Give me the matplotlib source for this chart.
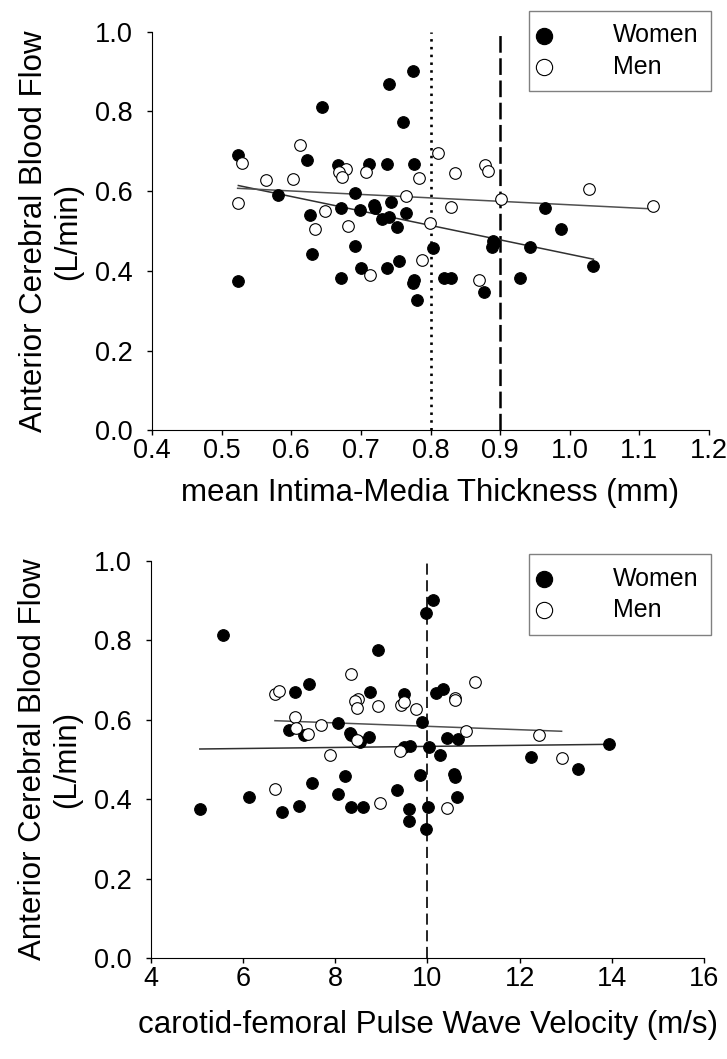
import numpy as np
import matplotlib
matplotlib.use("Agg")
import matplotlib.pyplot as plt

plt.rcParams['font.family'] = ['Liberation Sans', 'DejaVu Sans']
plt.rcParams['lines.scale_dashes'] = False

# top panel: mean IMT (mm) vs ACA blood flow (L/min)
imt_women_x = [0.524, 0.644, 0.741, 0.775, 0.761, 0.622, 0.667, 0.711, 0.737, 0.776,
               0.581, 0.691, 0.743, 0.719, 0.720, 0.672, 0.699, 0.627, 0.765, 0.731,
               0.741, 0.752, 0.630, 0.691, 0.700, 0.671, 0.738, 0.755, 0.776, 0.775,
               0.780, 0.524, 0.965, 0.988, 0.890, 0.889, 0.891, 0.803, 0.943, 1.034,
               0.820, 0.829, 0.928, 0.877]
imt_women_y = [0.690, 0.812, 0.868, 0.901, 0.774, 0.677, 0.665, 0.667, 0.669, 0.669,
               0.591, 0.595, 0.574, 0.566, 0.558, 0.557, 0.553, 0.540, 0.546, 0.530,
               0.534, 0.511, 0.442, 0.462, 0.406, 0.383, 0.406, 0.425, 0.377, 0.369,
               0.327, 0.375, 0.558, 0.504, 0.476, 0.461, 0.469, 0.457, 0.461, 0.413,
               0.381, 0.381, 0.381, 0.347]
imt_men_x = [0.529, 0.612, 0.564, 0.603, 0.523, 0.678, 0.669, 0.673, 0.707, 0.783,
             0.765, 0.649, 0.634, 0.682, 0.799, 0.713, 0.788, 0.811, 0.835, 0.878,
             0.883, 0.829, 0.901, 1.027, 1.120, 0.869]
imt_men_y = [0.671, 0.715, 0.627, 0.630, 0.571, 0.655, 0.647, 0.636, 0.649, 0.634,
             0.588, 0.549, 0.504, 0.513, 0.521, 0.390, 0.426, 0.696, 0.645, 0.666,
             0.651, 0.561, 0.580, 0.606, 0.563, 0.377]

# bottom panel: cfPWV (m/s) vs ACA blood flow (L/min)
pwv_women_x = [5.57, 9.97, 10.13, 8.93, 7.43, 7.12, 8.75, 9.48, 10.18, 10.33,
               9.89, 8.05, 7.00, 7.31, 8.32, 8.34, 8.54, 8.72, 9.48, 9.61,
               10.03, 10.43, 10.66, 10.27, 13.94, 12.25, 13.27, 10.58, 10.60, 10.63,
               10.02, 9.96, 9.84, 5.06, 6.13, 6.84, 7.21, 7.49, 8.05, 8.21,
               8.34, 8.61, 9.34, 9.59, 9.59]
pwv_women_y = [0.812, 0.868, 0.902, 0.775, 0.690, 0.669, 0.669, 0.665, 0.668, 0.678,
               0.594, 0.591, 0.574, 0.562, 0.567, 0.562, 0.545, 0.557, 0.532, 0.535,
               0.531, 0.553, 0.551, 0.511, 0.540, 0.506, 0.476, 0.463, 0.457, 0.406,
               0.380, 0.326, 0.461, 0.375, 0.406, 0.368, 0.383, 0.442, 0.413, 0.459,
               0.381, 0.381, 0.424, 0.376, 0.346]
pwv_men_x = [8.33, 6.69, 6.78, 8.50, 8.43, 8.48, 8.93, 9.43, 9.48, 9.75,
             7.13, 7.15, 7.68, 7.40, 8.46, 9.40, 7.89, 11.02, 10.60, 10.60,
             10.84, 12.41, 12.91, 6.69, 8.96, 10.42]
pwv_men_y = [0.716, 0.665, 0.672, 0.652, 0.648, 0.630, 0.634, 0.637, 0.645, 0.628,
             0.608, 0.580, 0.588, 0.564, 0.549, 0.521, 0.512, 0.696, 0.655, 0.650,
             0.571, 0.561, 0.505, 0.426, 0.390, 0.377]

imt_cutoffs = [0.8, 0.9]
pwv_cutoff = 10

fig = plt.figure(figsize=(7.27, 10.59), dpi=100)
ax1 = fig.add_axes([152/727, 1 - 430.3/1059, 557/727, 398.6/1059])
ax2 = fig.add_axes([151/727, 1 - 958.3/1059, 553/727, 397.6/1059])


def panel(ax, wx, wy, mx, my):
    for x, y, col in [(wx, wy, '#303030'), (mx, my, '#505050')]:
        x = np.array(x)
        k, b = np.polyfit(x, y, 1)
        xx = np.array([x.min(), x.max()])
        ax.plot(xx, k * xx + b, color=col, lw=1.1, zorder=2)
    hw = ax.scatter(wx, wy, s=70, c='black', edgecolors='black', linewidths=0.8, zorder=3)
    hm = ax.scatter(mx, my, s=70, c='white', edgecolors='black', linewidths=0.8, zorder=4)
    ax.set_ylim(0, 1.0)
    ax.set_yticks(np.arange(0, 1.01, 0.2))
    ax.set_yticklabels(['%.1f' % v for v in np.arange(0, 1.01, 0.2)])
    for s in ['top', 'right']:
        ax.spines[s].set_visible(False)
    ax.tick_params(direction='out', length=3.6, width=1, labelsize=19.5)
    ax.tick_params(axis='x', pad=2)
    ax.tick_params(axis='y', pad=10)
    ax.set_ylabel('Anterior Cerebral Blood Flow\n(L/min)', fontsize=22.5, labelpad=9,
                  linespacing=1.15)
    return hw, hm


hw, hm = panel(ax1, imt_women_x, imt_women_y, imt_men_x, imt_men_y)
ax1.set_xlim(0.4, 1.2)
ax1.set_xticks(np.arange(0.4, 1.21, 0.1))
ax1.set_xticklabels(['%.1f' % v for v in np.arange(0.4, 1.21, 0.1)])
ax1.vlines(imt_cutoffs[0], 0, 1.0, colors='black', lw=1.9, linestyles=(0, (1.8, 3.8)), zorder=1)
ax1.vlines(imt_cutoffs[1], 0, 1.0, colors='black', lw=1.8, linestyles=(0, (12, 4)), zorder=1)
ax1.set_xlabel('mean Intima-Media Thickness (mm)', fontsize=22.5, labelpad=10)

panel(ax2, pwv_women_x, pwv_women_y, pwv_men_x, pwv_men_y)
ax2.set_xlim(4, 16)
ax2.set_xticks(np.arange(4, 17, 2))
ax2.vlines(pwv_cutoff, 0, 1.0, colors='black', lw=1.2, linestyles=(0, (8, 4)), zorder=1)
ax2.set_xlabel('carotid-femoral Pulse Wave Velocity (m/s)', fontsize=22.5, labelpad=13)

for ax, top in [(ax1, 1 - 10.7/1059), (ax2, 1 - 554/1059)]:
    leg = ax.legend([hw, hm], ['Women', 'Men'], loc='upper right',
                    bbox_to_anchor=(711/727, top), bbox_transform=fig.transFigure,
                    fontsize=18, fancybox=False, frameon=True, handletextpad=2.66,
                    borderpad=0.5, labelspacing=0.3, handlelength=0.2,
                    markerscale=1.4, borderaxespad=0)
    leg.get_frame().set_edgecolor('#606060')
    leg.get_frame().set_linewidth(1.0)

fig.savefig('out.png', dpi=100)
